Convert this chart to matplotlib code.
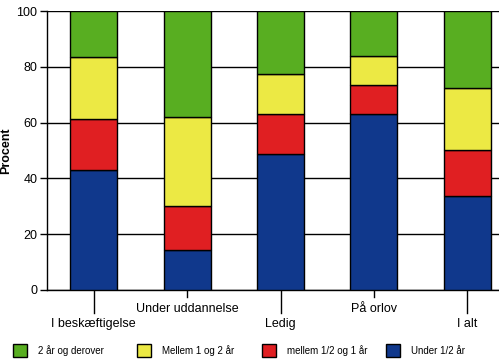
import matplotlib
matplotlib.use("Agg")
import matplotlib.pyplot as plt
from matplotlib.patches import Rectangle
import matplotlib.transforms as mtransforms
import numpy as np

plt.rcParams['font.family'] = ['Liberation Sans', 'DejaVu Sans']

categories = ["I beskæftigelse", "Under uddannelse", "Ledig", "På orlov", "I alt"]
series_names = ["Under 1/2 år", "mellem 1/2 og 1 år", "Mellem 1 og 2 år", "2 år og derover"]
under_half = [42.9, 14.2, 48.6, 63.0, 33.7]
half_to_one = [18.4, 15.8, 14.4, 10.3, 16.4]
one_to_two = [22.1, 31.9, 14.3, 10.4, 22.2]
two_plus = [16.6, 38.1, 22.7, 16.3, 27.7]
colors = ["#10388c", "#e01f22", "#ece944", "#58ae21"]
yticks = [0, 20, 40, 60, 80, 100]

W, H = 499, 360
AX_H = 279
fig = plt.figure(figsize=(W/100, H/100), dpi=100)
fig.patch.set_facecolor("white")
ax = fig.add_axes([47/W, (H-290)/H, (499-47)/W, AX_H/H])

x = np.arange(len(categories))
bottom = np.zeros(len(categories))
for vals, c in zip([under_half, half_to_one, one_to_two, two_plus], colors):
    ax.bar(x, vals, width=0.505, bottom=bottom, color=c, edgecolor="black",
           linewidth=1.0, zorder=3)
    bottom += np.array(vals)

ax.set_ylim(0, 100)
ax.set_xlim(-0.5, 4.5 - 15/93.4)
ax.set_yticks(yticks)
ax.yaxis.grid(True, color="black", linewidth=1.0, zorder=0)
ax.set_axisbelow(True)
for s in ["top", "right"]:
    ax.spines[s].set_visible(False)
ax.spines["left"].set_linewidth(1.0)
ax.spines["bottom"].set_linewidth(1.0)
ax.tick_params(axis="y", length=5, width=1.0, labelsize=9, pad=2)
ax.set_ylabel("Procent", fontsize=9, fontweight="bold", labelpad=3)

ax.set_xticks(x)
ax.set_xticklabels([])
ax.tick_params(axis="x", length=0)

trans = mtransforms.blended_transform_factory(ax.transData, ax.transAxes)
for i, cat in enumerate(categories):
    if i % 2 == 0:
        tick_len, label_off = 23, 34
    else:
        tick_len, label_off = 7, 19
    ax.plot([x[i], x[i]], [0, -tick_len/AX_H], color="black", linewidth=1.0,
            transform=trans, clip_on=False)
    ax.text(x[i], -label_off/AX_H, cat, transform=trans, ha="center", va="center",
            fontsize=9)

# legend drawn manually, fixed pitch
leg_order = [3, 2, 1, 0]
for k, idx in enumerate(leg_order):
    x0 = 13 + k * 124.3
    y0 = H - 357
    fig.patches.append(Rectangle((x0/W, y0/H), 14/W, 13/H, transform=fig.transFigure,
                                 facecolor=colors[idx], edgecolor="black", linewidth=1.0))
    fig.text((x0 + 25)/W, (y0 + 6.5)/H, series_names[idx], fontsize=7, va="center", ha="left")

fig.savefig("out.png", dpi=100)
